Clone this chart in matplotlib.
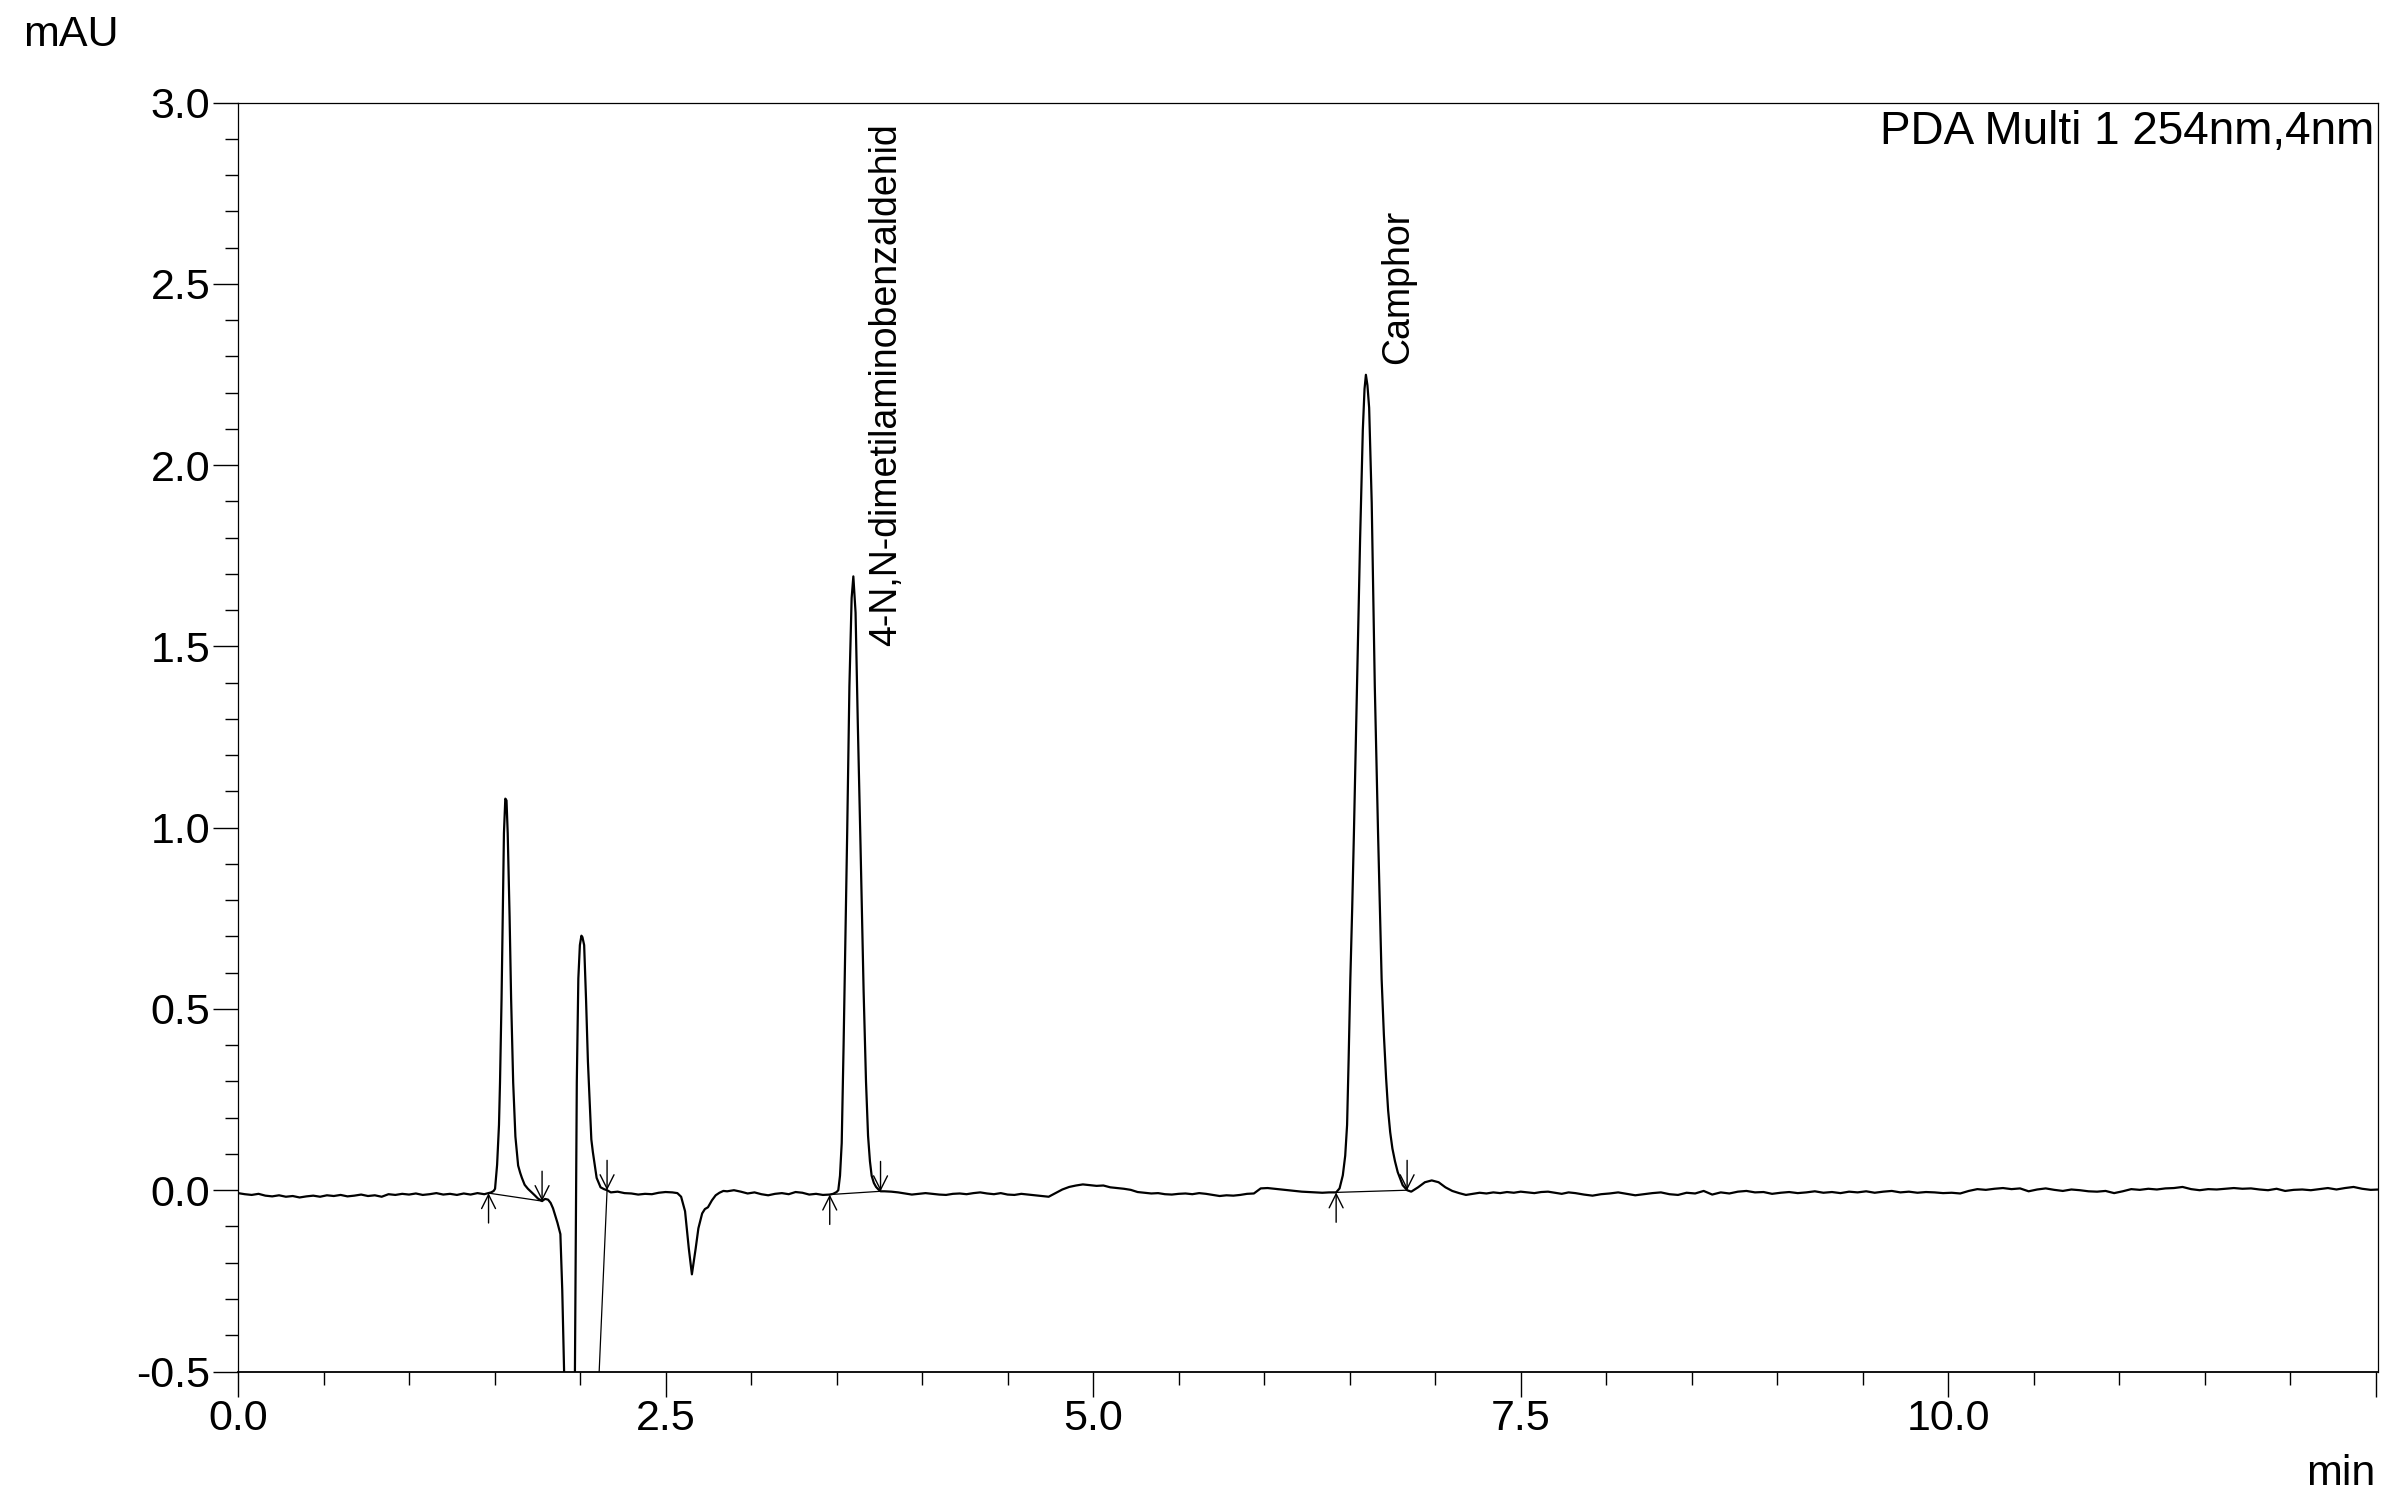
import numpy as np
import matplotlib
matplotlib.use('Agg')
import matplotlib.pyplot as plt
from matplotlib.ticker import MultipleLocator

plt.rcParams['font.family'] = ['Liberation Sans', 'DejaVu Sans']
plt.rcParams['axes.unicode_minus'] = False

# ---------------- data ----------------
# baseline segments: (start time, step, values)
base0_start, base0_step = 0.00, 0.04
base0_v = [-0.008, -0.011, -0.013, -0.010, -0.015, -0.017, -0.014, -0.018, -0.016, -0.020,
           -0.017, -0.015, -0.018, -0.014, -0.016, -0.013, -0.017, -0.015, -0.012, -0.016,
           -0.014, -0.018, -0.011, -0.013, -0.010, -0.012, -0.009, -0.013, -0.011, -0.008,
           -0.012, -0.010, -0.013, -0.009, -0.012, -0.008, -0.011]

peak1_t = [1.465, 1.480, 1.495, 1.503, 1.515, 1.526, 1.532, 1.541, 1.548, 1.555, 1.563, 1.570,
           1.577, 1.588, 1.597, 1.609, 1.622, 1.638, 1.650, 1.660, 1.676, 1.695, 1.715, 1.735,
           1.754, 1.778]
peak1_v = [-0.008, -0.006, -0.002, 0.004, 0.07, 0.18, 0.297, 0.527, 0.756, 0.985, 1.08, 1.075,
           0.985, 0.756, 0.527, 0.297, 0.148, 0.068, 0.048, 0.034, 0.015, 0.004, -0.005, -0.014,
           -0.023, -0.030]

peak2_t = [1.795, 1.813, 1.828, 1.842, 1.855, 1.868, 1.885, 1.896, 1.907, 1.930, 1.970, 1.981,
           1.990, 1.999, 2.008, 2.014, 2.024, 2.035, 2.046, 2.057, 2.066, 2.075, 2.097, 2.120,
           2.140, 2.158]
peak2_v = [-0.024, -0.026, -0.035, -0.050, -0.070, -0.090, -0.121, -0.276, -0.505, -2.47, -0.505,
           0.297, 0.584, 0.676, 0.702, 0.698, 0.676, 0.527, 0.355, 0.240, 0.140, 0.105, 0.034,
           0.008, 0.003, 0.000]

base1_start, base1_step = 2.18, 0.04
base1_v = [-0.006, -0.004, -0.008, -0.009, -0.012, -0.010, -0.011, -0.007, -0.005, -0.006]

dip_t = [2.569, 2.591, 2.614, 2.636, 2.654, 2.676, 2.692, 2.714, 2.730, 2.748, 2.771, 2.793,
         2.815, 2.838]
dip_v = [-0.008, -0.018, -0.058, -0.161, -0.232, -0.161, -0.105, -0.064, -0.052, -0.047, -0.028,
         -0.014, -0.007, -0.002]

base2_start, base2_step = 2.86, 0.04
base2_v = [-0.003, 0.000, -0.004, -0.009, -0.006, -0.011, -0.014, -0.010, -0.008, -0.011,
           -0.005, -0.007, -0.012, -0.010, -0.013]

peak3_t = [3.460, 3.480, 3.500, 3.510, 3.520, 3.530, 3.541, 3.552, 3.562, 3.575, 3.588, 3.598,
           3.611, 3.624, 3.640, 3.658, 3.672, 3.684, 3.695, 3.705, 3.718, 3.731, 3.745, 3.757]
peak3_v = [-0.012, -0.010, -0.005, 0.000, 0.040, 0.130, 0.400, 0.700, 0.986, 1.390, 1.633, 1.693,
           1.593, 1.289, 0.950, 0.550, 0.300, 0.150, 0.080, 0.040, 0.020, 0.009, 0.002, -0.003]

base3_start, base3_step = 3.78, 0.04
base3_v = [-0.003, -0.004, -0.006, -0.009, -0.012, -0.010, -0.008, -0.010, -0.012, -0.013,
           -0.010, -0.009, -0.011, -0.008, -0.006, -0.009, -0.011, -0.008, -0.012, -0.013,
           -0.010, -0.012, -0.014, -0.016, -0.018, -0.008, 0.002, 0.009, 0.013, 0.016,
           0.014, 0.012, 0.013, 0.008, 0.006, 0.004, 0.001, -0.005, -0.007, -0.009,
           -0.008, -0.011, -0.012, -0.010, -0.009, -0.011, -0.008, -0.010, -0.013, -0.016,
           -0.014, -0.015, -0.013, -0.010, -0.009, 0.005, 0.006, 0.004, 0.002, 0.000,
           -0.002, -0.004, -0.005, -0.006, -0.007, -0.006]

camphor_t = [6.421, 6.441, 6.460, 6.474, 6.485, 6.494, 6.504, 6.515, 6.525, 6.543, 6.561, 6.577,
             6.587, 6.595, 6.604, 6.614, 6.629, 6.647, 6.666, 6.687, 6.700, 6.713, 6.725, 6.737,
             6.750, 6.765, 6.781, 6.810, 6.836]
camphor_v = [-0.006, 0.005, 0.041, 0.095, 0.180, 0.360, 0.582, 0.780, 0.986, 1.390, 1.794, 2.097,
             2.210, 2.249, 2.220, 2.158, 1.896, 1.390, 0.986, 0.582, 0.430, 0.310, 0.220, 0.160,
             0.115, 0.080, 0.050, 0.014, 0.000]

base4_start, base4_step = 6.86, 0.04
base4_v = [-0.004, 0.008, 0.022, 0.027, 0.022, 0.008, -0.002, -0.008, -0.013, -0.010, -0.007,
           -0.009, -0.006, -0.008, -0.005, -0.007, -0.004, -0.006, -0.008, -0.005, -0.004,
           -0.007, -0.010, -0.006]

base5_start, base5_step = 7.82, 0.05
base5_v = [-0.008, -0.012, -0.015, -0.011, -0.009, -0.006, -0.010, -0.014, -0.011, -0.008,
           -0.006, -0.011, -0.013, -0.007, -0.009, -0.002, -0.012, -0.006, -0.009, -0.004,
           -0.002, -0.006, -0.005, -0.010, -0.007, -0.005, -0.008, -0.006, -0.003, -0.007,
           -0.005, -0.008, -0.004, -0.006, -0.003, -0.007, -0.004, -0.002, -0.006, -0.004,
           -0.007, -0.005, -0.006, -0.008, -0.007, -0.009, -0.002, 0.003, 0.001, 0.004,
           0.006, 0.003, 0.005, -0.003, 0.002, 0.005, 0.001, -0.002, 0.002, 0.000,
           -0.003, -0.004, -0.002, -0.008, -0.003, 0.003, 0.001, 0.004, 0.002, 0.005,
           0.006, 0.009, 0.003, 0.000, 0.003, 0.002, 0.004, 0.006, 0.004, 0.005,
           0.002, 0.000, 0.004, -0.002, 0.001, 0.002, 0.000, 0.003, 0.006, 0.002,
           0.006, 0.009, 0.004, 0.001, 0.002]

# integration marks (start / end of each integrated peak)
peak_start_t = [1.465, 1.930, 3.460, 6.421]
peak_start_v = [-0.008, -2.47, -0.012, -0.006]
peak_end_t = [1.778, 2.158, 3.757, 6.836]
peak_end_v = [-0.030, 0.000, -0.003, 0.000]

# peak name labels
label_names = ['4-N,N-dimetilaminobenzaldehid', 'Camphor']
label_t = [3.789, 6.784]
label_v = [1.501, 2.280]

x_major = [0.0, 2.5, 5.0, 7.5, 10.0, 12.5]
x_major_labels = ['0.0', '2.5', '5.0', '7.5', '10.0', '']
y_major = [-0.5, 0.0, 0.5, 1.0, 1.5, 2.0, 2.5, 3.0]
y_major_labels = ['-0.5', '0.0', '0.5', '1.0', '1.5', '2.0', '2.5', '3.0']

# ---------------- assemble trace ----------------
def seg(start, step, vals):
    return list(start + step * np.arange(len(vals))), list(vals)

pieces = [seg(base0_start, base0_step, base0_v), (peak1_t, peak1_v), (peak2_t, peak2_v),
          seg(base1_start, base1_step, base1_v), (dip_t, dip_v),
          seg(base2_start, base2_step, base2_v), (peak3_t, peak3_v),
          seg(base3_start, base3_step, base3_v), (camphor_t, camphor_v),
          seg(base4_start, base4_step, base4_v), seg(base5_start, base5_step, base5_v)]
t_all = np.concatenate([np.asarray(p[0], float) for p in pieces])
v_all = np.concatenate([np.asarray(p[1], float) for p in pieces])
order = np.argsort(t_all, kind='stable')
t_all, v_all = t_all[order], v_all[order]

# ---------------- figure ----------------
W, H = 2400, 1511
fig = plt.figure(figsize=(W / 100, H / 100), dpi=100)
ax = fig.add_axes([238 / W, 139.5 / H, 2139.5 / W, 1269 / H])

ax.plot(t_all, v_all, color='black', lw=1.6, solid_joinstyle='round')

# integration baselines
for ts, vs, te, ve in zip(peak_start_t, peak_start_v, peak_end_t, peak_end_v):
    ax.plot([ts, te], [vs, ve], color='black', lw=0.9)

arrow_len = 21.5  # points
astyle = '->,head_length=1.0,head_width=0.5'
for ts, vs in zip(peak_start_t, peak_start_v):
    ax.annotate('', xy=(ts, vs), xytext=(0, -arrow_len), textcoords='offset points',
                arrowprops=dict(arrowstyle=astyle, lw=1.0, color='black',
                                shrinkA=0, shrinkB=0, mutation_scale=10))
for te, ve in zip(peak_end_t, peak_end_v):
    ax.annotate('', xy=(te, ve), xytext=(0, arrow_len), textcoords='offset points',
                arrowprops=dict(arrowstyle=astyle, lw=1.0, color='black',
                                shrinkA=0, shrinkB=0, mutation_scale=10))

for name, lt, lv in zip(label_names, label_t, label_v):
    ax.text(lt, lv, name, rotation=90, ha='center', va='bottom', fontsize=27)

ax.set_xlim(0, 12.51)
ax.set_ylim(-0.5, 3.0)
ax.set_xticks(x_major)
ax.set_xticklabels(x_major_labels)
ax.set_yticks(y_major)
ax.set_yticklabels(y_major_labels)
ax.xaxis.set_minor_locator(MultipleLocator(0.5))
ax.yaxis.set_minor_locator(MultipleLocator(0.1))
ax.tick_params(which='major', direction='out', length=18, width=1.0, labelsize=31, pad=2,
               colors='black')
ax.tick_params(which='minor', direction='out', length=9.4, width=1.0)

for s in ['left', 'top', 'right']:
    ax.spines[s].set_linewidth(0.9)
ax.spines['bottom'].set_linewidth(1.3)

fig.text(23 / W, 1 - 46 / H, 'mAU', ha='left', va='baseline', fontsize=31)
fig.text(2375 / W, 1 - 1485 / H, 'min', ha='right', va='baseline', fontsize=31)
fig.text(2374 / W, 1 - 144 / H, 'PDA Multi 1 254nm,4nm', ha='right', va='baseline', fontsize=33)

fig.savefig('out.png', dpi=100)
